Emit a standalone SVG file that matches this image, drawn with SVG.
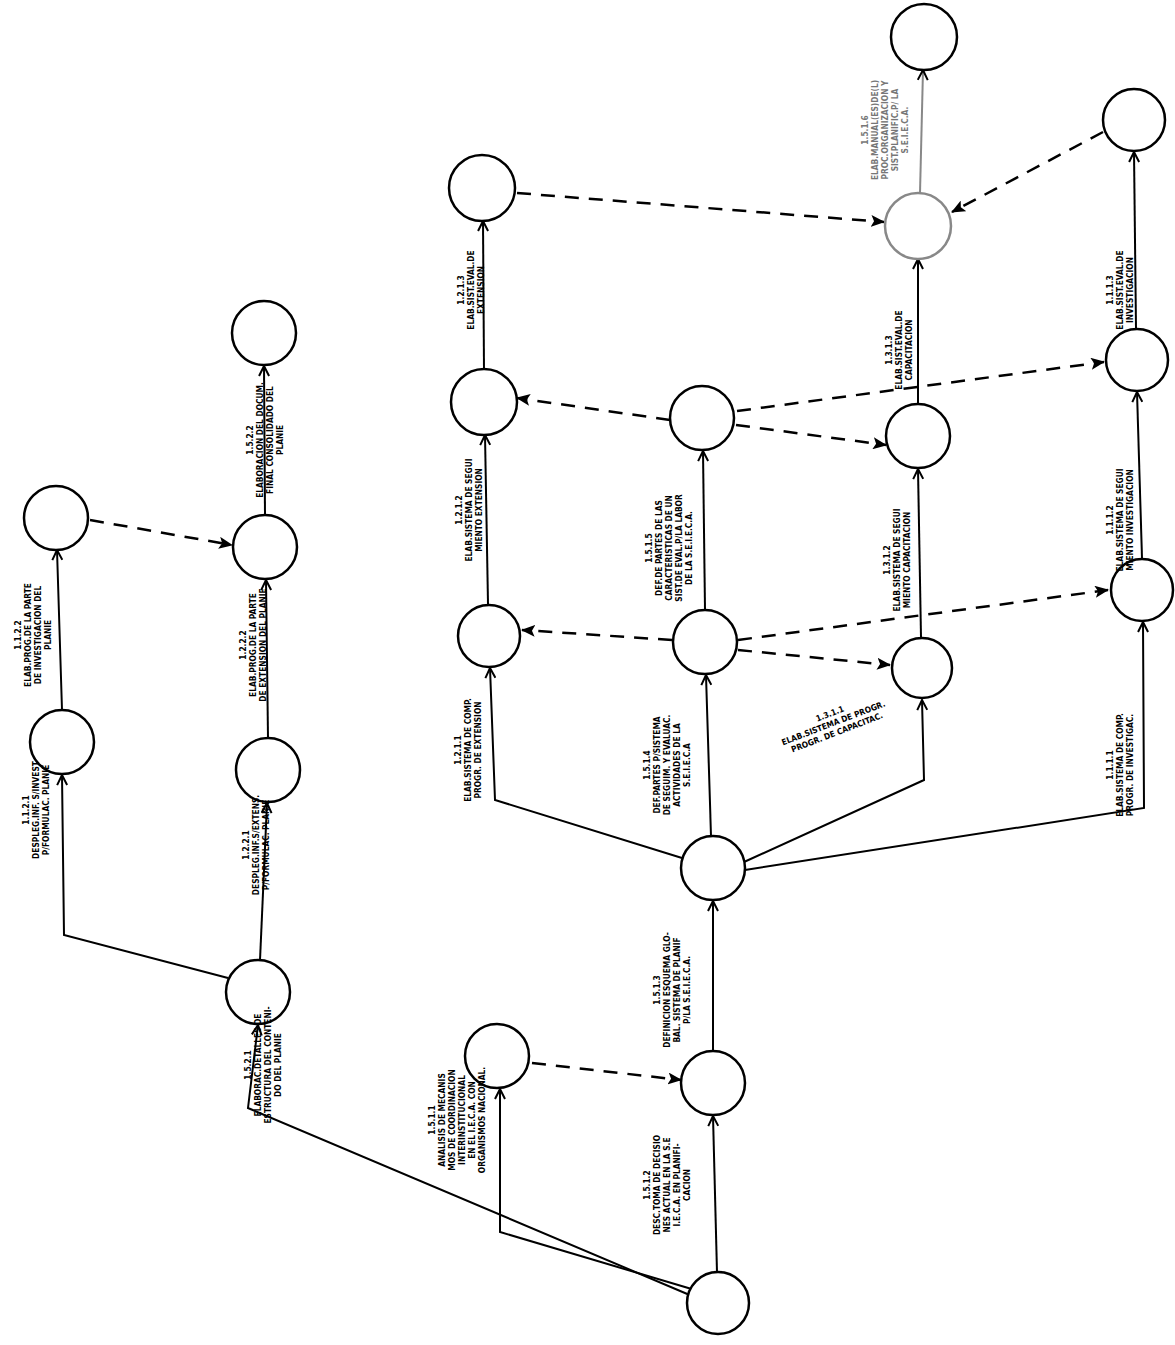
<svg xmlns="http://www.w3.org/2000/svg" width="1175" height="1345" viewBox="0 0 1175 1345">
<style>
.n{fill:#fff;stroke:#000;stroke-width:2.5}
.g{stroke:#888}
.e{fill:none;stroke:#000;stroke-width:2;marker-end:url(#arr)}
.d{fill:none;stroke:#000;stroke-width:2.5;stroke-dasharray:14 10;marker-end:url(#arrd)}
.eg{stroke:#888}
text{font-family:"DejaVu Sans Condensed","DejaVu Sans",sans-serif;font-weight:bold;font-size:8.3px;fill:#000;text-anchor:middle}
.lg text{fill:#777}
</style>
<defs>
<marker id="arr" viewBox="0 0 12 12" refX="11" refY="6" markerWidth="12" markerHeight="12" markerUnits="userSpaceOnUse" orient="auto">
<path d="M1,1 L11,6 L1,11" fill="none" stroke="#000" stroke-width="2"/>
</marker>
<marker id="arrd" viewBox="0 0 14 12" refX="13" refY="6" markerWidth="14" markerHeight="12" markerUnits="userSpaceOnUse" orient="auto">
<path d="M0,0 L14,6 L0,12 L3,6 z" fill="#000"/>
</marker>
</defs>
<rect width="1175" height="1345" fill="#fff"/>
<g id="connectors">
<path class="e" d="M717,1272 L713,1116"/>
<path class="e" d="M713,1051 L713,901"/>
<path class="e" d="M711,836 L706,675"/>
<path class="e" d="M705,610 L703,451"/>
<path class="e" d="M682,858 L495,800 L490,668"/>
<path class="e" d="M488,604 L485,435"/>
<path class="e" d="M484,370 L483,221"/>
<path class="e" d="M744,862 L924,780 L922,700"/>
<path class="e" d="M921,637 L918,469"/>
<path class="e" d="M918,403 L918,259"/>
<path class="e eg" d="M920,193 L923,70"/>
<path class="e" d="M745,870 L1144,808 L1143,622"/>
<path class="e" d="M1142,558 L1137,392"/>
<path class="e" d="M1136,328 L1134,152"/>
<path class="e" d="M695,1290 L500,1232 L500,1089"/>
<path class="e" d="M692,1296 L248,1108 L258,1025"/>
<path class="e" d="M260,960 L267,803"/>
<path class="e" d="M268,738 L266,580"/>
<path class="e" d="M265,515 L264,366"/>
<path class="e" d="M228,978 L64,935 L62,775"/>
<path class="e" d="M62,710 L57,550"/>
<path class="d" d="M90,520 L232,545"/>
<path class="d" d="M532,1063 L681,1080"/>
<path class="d" d="M517,193 L884,222"/>
<path class="d" d="M1103,132 L952,212"/>
<path class="d" d="M670,420 L517,398"/>
<path class="d" d="M736,425 L886,445"/>
<path class="d" d="M737,411 L1104,362"/>
<path class="d" d="M672,640 L522,630"/>
<path class="d" d="M738,650 L890,665"/>
<path class="d" d="M738,640 L1108,590"/>
</g>
<g id="nA"><circle class="n" cx="56" cy="518" r="32"/></g>
<g id="nB"><circle class="n" cx="62" cy="742" r="32"/></g>
<g id="nC"><circle class="n" cx="264" cy="333" r="32"/></g>
<g id="nD"><circle class="n" cx="265" cy="547" r="32"/></g>
<g id="nE"><circle class="n" cx="268" cy="770" r="32"/></g>
<g id="nF"><circle class="n" cx="258" cy="992" r="32"/></g>
<g id="nG"><circle class="n" cx="482" cy="188" r="33"/></g>
<g id="nH"><circle class="n" cx="484" cy="402" r="33"/></g>
<g id="nI"><circle class="n" cx="489" cy="636" r="31"/></g>
<g id="nJ"><circle class="n" cx="497" cy="1056" r="32"/></g>
<g id="nK"><circle class="n" cx="713" cy="1083" r="32"/></g>
<g id="nL"><circle class="n" cx="713" cy="868" r="32"/></g>
<g id="nM"><circle class="n" cx="705" cy="642" r="32"/></g>
<g id="nN"><circle class="n" cx="702" cy="418" r="32"/></g>
<g id="nO"><circle class="n" cx="918" cy="436" r="32"/></g>
<g id="nP"><circle class="n" cx="922" cy="668" r="30"/></g>
<g id="nQ"><circle class="n g" cx="918" cy="226" r="33"/></g>
<g id="nR"><circle class="n" cx="924" cy="37" r="33"/></g>
<g id="nS"><circle class="n" cx="1134" cy="120" r="31"/></g>
<g id="nT"><circle class="n" cx="1137" cy="360" r="31"/></g>
<g id="nU"><circle class="n" cx="1142" cy="590" r="31"/></g>
<g id="nV"><circle class="n" cx="718" cy="1303" r="31"/></g>
<g id="labels">
<text transform="translate(32,635) rotate(-90)"><tspan x="0" y="-11">1.1.2.2</tspan><tspan x="0" y="-1">ELAB.PROG.DE LA PARTE</tspan><tspan x="0" y="9">DE INVESTIGACION DEL</tspan><tspan x="0" y="19">PLANIE</tspan></text>
<text transform="translate(35,810) rotate(-90)"><tspan x="0" y="-6">1.1.2.1</tspan><tspan x="0" y="4">DESPLEG.INF. S/INVEST</tspan><tspan x="0" y="14">P/FORMULAC. PLANIE</tspan></text>
<text transform="translate(264,440) rotate(-90)"><tspan x="0" y="-11">1.5.2.2</tspan><tspan x="0" y="-1">ELABORACION DEL DOCUM.</tspan><tspan x="0" y="9">FINAL CONSOLIDADO DEL</tspan><tspan x="0" y="19">PLANIE</tspan></text>
<text transform="translate(252,645) rotate(-90)"><tspan x="0" y="-6">1.2.2.2</tspan><tspan x="0" y="4">ELAB.PROG.DE LA PARTE</tspan><tspan x="0" y="14">DE EXTENSION DEL PLANIE</tspan></text>
<text transform="translate(255,845) rotate(-90)"><tspan x="0" y="-6">1.2.2.1</tspan><tspan x="0" y="4">DESPLEG.INF.S/EXTENS.</tspan><tspan x="0" y="14">P/FORMULAC. PLANIE</tspan></text>
<text transform="translate(262,1065) rotate(-90)"><tspan x="0" y="-11">1.5.2.1</tspan><tspan x="0" y="-1">ELABORAC.DETALLES DE</tspan><tspan x="0" y="9">ESTRUCTURA DEL CONTENI-</tspan><tspan x="0" y="19">DO DEL PLANIE</tspan></text>
<text transform="translate(456,1120) rotate(-90)"><tspan x="0" y="-21">1.5.1.1</tspan><tspan x="0" y="-11">ANALISIS DE MECANIS</tspan><tspan x="0" y="-1">MOS DE COORDINACION</tspan><tspan x="0" y="9">INTERINSTITUCIONAL</tspan><tspan x="0" y="19">EN EL I.E.C.A. CON</tspan><tspan x="0" y="29">ORGANISMOS NACIONAL.</tspan></text>
<text transform="translate(666,1185) rotate(-90)"><tspan x="0" y="-16">1.5.1.2</tspan><tspan x="0" y="-6">DESC.TOMA DE DECISIO</tspan><tspan x="0" y="4">NES ACTUAL EN LA S.E</tspan><tspan x="0" y="14">I.E.C.A. EN PLANIFI-</tspan><tspan x="0" y="24">CACION</tspan></text>
<text transform="translate(671,990) rotate(-90)"><tspan x="0" y="-11">1.5.1.3</tspan><tspan x="0" y="-1">DEFINICION ESQUEMA GLO-</tspan><tspan x="0" y="9">BAL. SISTEMA DE PLANIF</tspan><tspan x="0" y="19">P/LA S.E.I.E.C.A.</tspan></text>
<text transform="translate(666,765) rotate(-90)"><tspan x="0" y="-16">1.5.1.4</tspan><tspan x="0" y="-6">DEF.PARTES P/SISTEMA</tspan><tspan x="0" y="4">DE SEGUIM. Y EVALUAC.</tspan><tspan x="0" y="14">ACTIVIDADES DE LA</tspan><tspan x="0" y="24">S.E.I.E.C.A</tspan></text>
<text transform="translate(668,548) rotate(-90)"><tspan x="0" y="-16">1.5.1.5</tspan><tspan x="0" y="-6">DEF.DE PARTES DE LAS</tspan><tspan x="0" y="4">CARACTERISTICAS DE UN</tspan><tspan x="0" y="14">SIST.DE EVAL.P/LA LABOR</tspan><tspan x="0" y="24">DE LA S.E.I.E.C.A.</tspan></text>
<text transform="translate(467,750) rotate(-90)"><tspan x="0" y="-6">1.2.1.1</tspan><tspan x="0" y="4">ELAB.SISTEMA DE COMP.</tspan><tspan x="0" y="14">PROGR. DE EXTENSION</tspan></text>
<text transform="translate(468,510) rotate(-90)"><tspan x="0" y="-6">1.2.1.2</tspan><tspan x="0" y="4">ELAB.SISTEMA DE SEGUI</tspan><tspan x="0" y="14">MIENTO EXTENSION</tspan></text>
<text transform="translate(470,290) rotate(-90)"><tspan x="0" y="-6">1.2.1.3</tspan><tspan x="0" y="4">ELAB.SIST.EVAL.DE</tspan><tspan x="0" y="14">EXTENSION</tspan></text>
<text transform="translate(833,722) rotate(-21)"><tspan x="0" y="-6">1.3.1.1</tspan><tspan x="0" y="4">ELAB.SISTEMA DE PROGR.</tspan><tspan x="0" y="14">PROGR. DE CAPACITAC.</tspan></text>
<text transform="translate(896,560) rotate(-90)"><tspan x="0" y="-6">1.3.1.2</tspan><tspan x="0" y="4">ELAB.SISTEMA DE SEGUI</tspan><tspan x="0" y="14">MIENTO CAPACITACION</tspan></text>
<text transform="translate(898,350) rotate(-90)"><tspan x="0" y="-6">1.3.1.3</tspan><tspan x="0" y="4">ELAB.SIST.EVAL.DE</tspan><tspan x="0" y="14">CAPACITACION</tspan></text>
<g class="lg"><text transform="translate(884,130) rotate(-90)"><tspan x="0" y="-16">1.5.1.6</tspan><tspan x="0" y="-6">ELAB.MANUAL(ES)DE(L)</tspan><tspan x="0" y="4">PROC.ORGANIZACION Y</tspan><tspan x="0" y="14">SIST.PLANIFIC.P/ LA</tspan><tspan x="0" y="24">S.E.I.E.C.A.</tspan></text></g>
<text transform="translate(1119,765) rotate(-90)"><tspan x="0" y="-6">1.1.1.1</tspan><tspan x="0" y="4">ELAB.SISTEMA DE COMP.</tspan><tspan x="0" y="14">PROGR. DE INVESTIGAC.</tspan></text>
<text transform="translate(1119,520) rotate(-90)"><tspan x="0" y="-6">1.1.1.2</tspan><tspan x="0" y="4">ELAB.SISTEMA DE SEGUI</tspan><tspan x="0" y="14">MIENTO INVESTIGACION</tspan></text>
<text transform="translate(1119,290) rotate(-90)"><tspan x="0" y="-6">1.1.1.3</tspan><tspan x="0" y="4">ELAB.SIST.EVAL.DE</tspan><tspan x="0" y="14">INVESTIGACION</tspan></text>
</g>
</svg>
